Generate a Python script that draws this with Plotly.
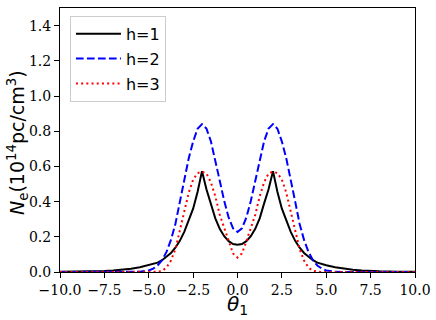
import plotly.graph_objects as go

# theta_1 positions
theta = [-10, -9, -8, -7.5, -7, -6.5, -6, -5.5, -5, -4.75, -4.5, -4.25, -4, -3.75, -3.5,
         -3.25, -3, -2.75, -2.5, -2.25, -2, -1.75, -1.5, -1.25, -1, -0.75, -0.5, -0.25,
         0, 0.25, 0.5, 0.75, 1, 1.25, 1.5, 1.75, 2, 2.25, 2.5, 2.75, 3, 3.25, 3.5,
         3.75, 4, 4.25, 4.5, 4.75, 5, 5.5, 6, 6.5, 7, 7.5, 8, 9, 10]

ne_h1 = [0.001, 0.002, 0.004, 0.006, 0.009, 0.013, 0.019, 0.027, 0.038, 0.045, 0.053, 0.067, 0.085, 0.108, 0.138,
         0.177, 0.228, 0.295, 0.36, 0.455, 0.573, 0.47, 0.39, 0.305, 0.245, 0.203, 0.175, 0.159,
         0.155, 0.159, 0.175, 0.203, 0.245, 0.305, 0.39, 0.47, 0.573, 0.455, 0.36, 0.295, 0.228, 0.177, 0.138,
         0.108, 0.085, 0.067, 0.053, 0.045, 0.038, 0.027, 0.019, 0.013, 0.009, 0.006, 0.004, 0.002, 0.001]

ne_h2 = [0.0, 0.0, 0.0, 0.0, 0.0, 0.0, 0.0, 0.002, 0.009, 0.019, 0.037, 0.067, 0.114, 0.182, 0.273,
         0.40, 0.53, 0.645, 0.741, 0.814, 0.84, 0.815, 0.743, 0.638, 0.519, 0.404, 0.31, 0.248,
         0.227, 0.248, 0.31, 0.404, 0.519, 0.638, 0.743, 0.815, 0.84, 0.814, 0.741, 0.645, 0.53, 0.40, 0.273,
         0.182, 0.114, 0.067, 0.037, 0.019, 0.009, 0.002, 0.0, 0.0, 0.0, 0.0, 0.0, 0.0, 0.0]

ne_h3 = [0.0, 0.0, 0.0, 0.0, 0.0, 0.0, 0.0, 0.0, 0.0, 0.0, 0.001, 0.006, 0.025, 0.065, 0.13,
         0.235, 0.345, 0.45, 0.525, 0.562, 0.57, 0.56, 0.51, 0.43, 0.325, 0.25, 0.175, 0.105,
         0.082, 0.105, 0.175, 0.25, 0.325, 0.43, 0.51, 0.56, 0.57, 0.562, 0.525, 0.45, 0.345, 0.235, 0.13,
         0.065, 0.025, 0.006, 0.001, 0.0, 0.0, 0.0, 0.0, 0.0, 0.0, 0.0, 0.0, 0.0, 0.0]

fig = go.Figure()
fig.add_trace(go.Scatter(x=theta, y=ne_h1, mode='lines', name='h=1', legendgroup='a',
                         line=dict(color='black', width=2)))
fig.add_trace(go.Scatter(x=theta, y=ne_h2, mode='lines', name='h=2', legendgroup='b',
                         line=dict(color='#0000ff', width=2, dash='7.7px,3.3px')))
fig.add_trace(go.Scatter(x=theta, y=ne_h3, mode='lines', name='h=3', legendgroup='c',
                         line=dict(color='#ff0000', width=2, dash='2px,3.2px')))

axis_style = dict(showline=True, linecolor='black', linewidth=1.1, mirror=True,
                  ticks='outside', ticklen=5, tickwidth=1.1, tickcolor='black',
                  showgrid=False, zeroline=False, automargin=False,
                  tickfont=dict(family='DejaVu Serif', size=14, color='black'))

fig.update_xaxes(range=[-10, 10], tick0=-10, dtick=2.5, tickformat='.1f', **axis_style)
fig.update_yaxes(range=[0, 1.5], tick0=0, dtick=0.2, tickformat='.1f', **axis_style)

# axis titles placed as annotations (pixel offsets from the plot edges)
fig.add_annotation(text='<i>θ</i><sub>1</sub>', xref='paper', yref='paper', x=0.5, y=0,
                   yshift=-33, showarrow=False, xanchor='center', yanchor='middle',
                   font=dict(family='DejaVu Sans', size=20, color='black'))
fig.add_annotation(text='<i>N</i><sub>e</sub>(10<sup>14</sup>pc/cm<sup>3</sup>)', xref='paper', yref='paper',
                   x=0, y=0.5, xshift=-43, yshift=-3, textangle=-90, showarrow=False,
                   xanchor='center', yanchor='middle',
                   font=dict(family='DejaVu Sans', size=19, color='black'))

fig.update_layout(
    width=436, height=320,
    margin=dict(l=60, r=21, t=8, b=48),
    plot_bgcolor='white', paper_bgcolor='white',
    legend=dict(x=0.028, y=0.97, xanchor='left', yanchor='top',
                bordercolor='#cccccc', borderwidth=1, bgcolor='rgba(255,255,255,0.8)',
                font=dict(family='DejaVu Sans', size=16, color='black'),
                traceorder='grouped', tracegroupgap=1, itemwidth=45),
)

# drop the browser's default page margin so the figure sits at the window corner
fig.write_html("out.html", config={'displayModeBar': False},
               post_script="document.body.style.margin='0';")
